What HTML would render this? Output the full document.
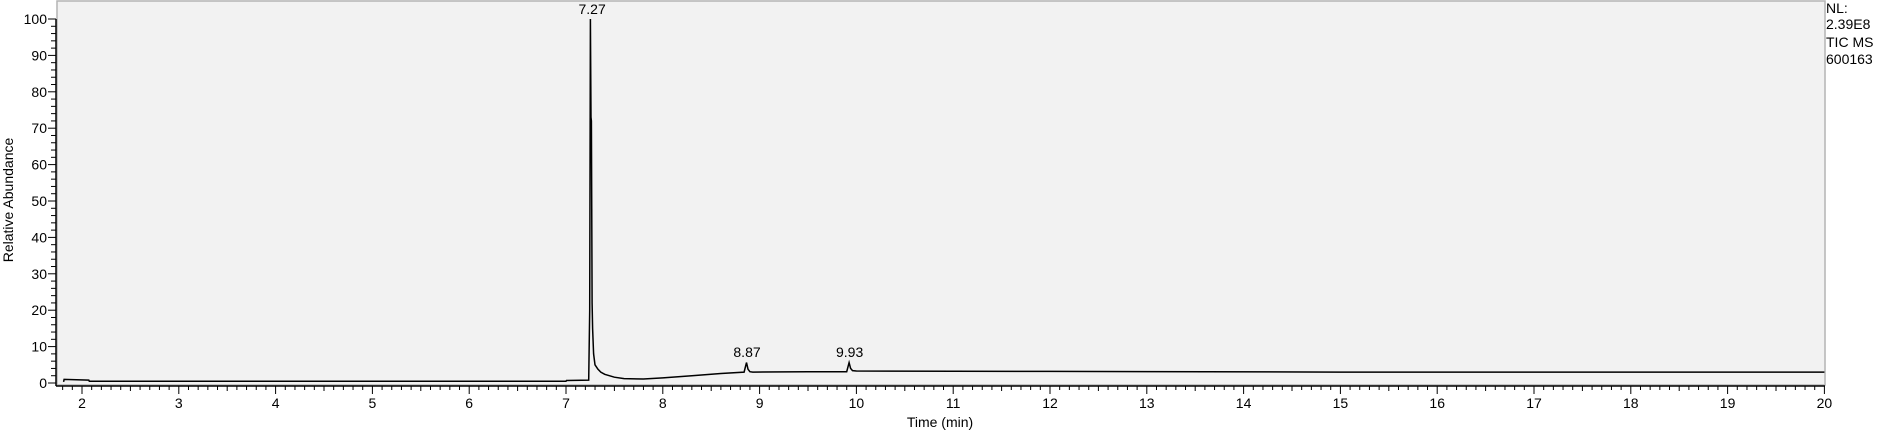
<!DOCTYPE html>
<html><head><meta charset="utf-8">
<style>
html,body{margin:0;padding:0;background:#fff;}
svg{display:block;font-family:"Liberation Sans",Arial,sans-serif;}
</style></head>
<body>
<svg id="chart" width="1879" height="435" viewBox="0 0 1879 435">
<rect x="57" y="1" width="1768" height="384" fill="#f2f2f2" stroke="#b4b4b4" stroke-width="1.5"/>
<g id="axes"></g>
<path id="trace" fill="none" stroke="#000" stroke-width="1.5"/>
<g id="labels"></g>
<text x="13" y="200" font-size="14" text-anchor="middle" transform="rotate(-90 13 200)">Relative Abundance</text>
<text x="940" y="427" font-size="14" text-anchor="middle">Time (min)</text>
<g font-size="14">
<text x="1826" y="13">NL:</text>
<text x="1826" y="29">2.39E8</text>
<text x="1826" y="47">TIC  MS</text>
<text x="1826" y="64">600163</text>
</g>
</svg>
<script>
const times = [1.81,1.815,2.07,2.075,7.0,7.005,7.235,7.245,7.252,7.258,7.262,7.27,7.275,7.285,7.3,7.33,7.36,7.4,7.5,7.6,7.8,8.0,8.3,8.6,8.84,8.865,8.88,8.9,8.93,9.5,9.9,9.925,9.94,9.96,10.0,12.0,15.0,20.0];
const values = [0.3,1.0,0.8,0.5,0.5,0.7,0.8,20,100,73,72,22,15,8,5,3.8,3.0,2.4,1.6,1.2,1.1,1.4,2.0,2.6,3.0,5.6,3.8,3.1,3.0,3.1,3.1,5.6,4.0,3.4,3.3,3.2,3.0,3.0];
const peakTimes = [7.27,8.87,9.93];
const peakValues = [100,5.8,5.8];
const peakLabels = ["7.27","8.87","9.93"];
const xTicks = [2,3,4,5,6,7,8,9,10,11,12,13,14,15,16,17,18,19,20];
const yTicks = [0,10,20,30,40,50,60,70,80,90,100];

const X = t => 82 + (t - 2) * 96.8;
const Y = v => 383 - v * 3.64;
const NS = "http://www.w3.org/2000/svg";
const axes = document.getElementById('axes');
function mk(tag, attrs, parent){const e=document.createElementNS(NS,tag);for(const k in attrs)e.setAttribute(k,attrs[k]);parent.appendChild(e);return e;}

let yl = mk('line',{x1:56,y1:Y(100),x2:56,y2:386,stroke:'#000','stroke-width':1.5},axes);


let xl = mk('line',{x1:56,y1:386,x2:1825,y2:386,stroke:'#000','stroke-width':1.5},axes);



for (let v = 0; v <= 100; v += 2) {
  const major = v % 10 === 0;
  const t = mk('line',{x1:major?48:51,y1:Y(v),x2:56,y2:Y(v),stroke:'#000','stroke-width':1},axes);
  
  
}
yTicks.forEach(v => {
  const t = mk('text',{x:47,y:Y(v)+5,'font-size':14,'text-anchor':'end'},axes);
  t.textContent = v;
  
  
});
for (let i = 18; i <= 200; i++) {
  const tv = i / 10;
  const major = i % 10 === 0, half = i % 5 === 0;
  const t = mk('line',{x1:X(tv),y1:386,x2:X(tv),y2:major?394:(half?391:390),stroke:'#000','stroke-width':1},axes);
  
  
}
xTicks.forEach(v => {
  const t = mk('text',{x:X(v),y:408,'font-size':14,'text-anchor':'middle'},axes);
  t.textContent = v;
  
  
});

let d = '';
times.forEach((t, i) => { d += (i ? 'L' : 'M') + X(t).toFixed(1) + ' ' + Y(values[i]).toFixed(1); });
document.getElementById('trace').setAttribute('d', d);

const lg = document.getElementById('labels');
peakTimes.forEach((t, i) => {
  const e = mk('text',{x:X(t),y:Y(peakValues[i])-5,'font-size':14,'text-anchor':'middle'},lg);
  e.textContent = peakLabels[i];
  
  
});
</script>
</body></html>
